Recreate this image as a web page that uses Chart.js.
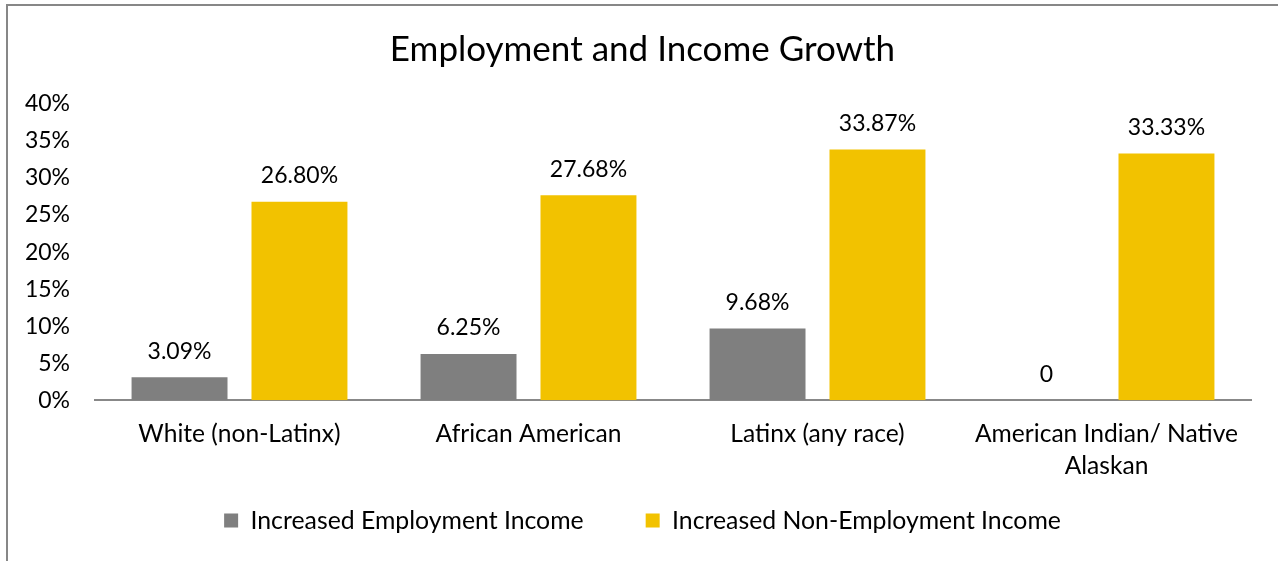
<!DOCTYPE html>
<html>
<head>
<meta charset="utf-8">
<title>Employment and Income Growth</title>
<script src="https://cdn.jsdelivr.net/npm/chart.js@4.4.1/dist/chart.umd.min.js"></script>
<style>
  html, body { margin: 0; padding: 0; background: #fff; }
  #wrap { position: relative; width: 1278px; height: 561px; }
</style>
</head>
<body>
<div id="wrap"><canvas id="growthChart" width="1278" height="561"></canvas></div>
<script>
// --- data ---
const categories = [
  'White (non-Latinx)',
  'African American',
  'Latinx (any race)',
  ['American Indian/ Native', 'Alaskan']
];
const employmentIncome = [3.09, 6.25, 9.68, 0];
const nonEmploymentIncome = [26.80, 27.68, 33.87, 33.33];
const seriesNames = ['Increased Employment Income', 'Increased Non-Employment Income'];
const seriesColors = ['#7f7f7f', '#f2c200'];
const yTicks = [0, 5, 10, 15, 20, 25, 30, 35, 40];

const FONT = 'Lato, "Open Sans", sans-serif';
const TEXT = '#000';

// thin grey frame round the chart (left and top edges)
const framePlugin = {
  id: 'frame',
  beforeDraw(chart) {
    const ctx = chart.ctx;
    ctx.save();
    ctx.strokeStyle = '#878787';
    ctx.lineWidth = 2;
    ctx.beginPath();
    ctx.moveTo(7, chart.height);
    ctx.lineTo(7, 5);
    ctx.lineTo(chart.width, 5);
    ctx.stroke();
    ctx.restore();
  },
  // the x axis box is kept short so the legend sits close; let its
  // two-line labels run past it instead of being clipped
  afterLayout(chart) {
    chart.scales.x.bottom = chart.height;
  }
};

// value labels above every bar
const valueLabels = {
  id: 'valueLabels',
  afterDatasetsDraw(chart) {
    const ctx = chart.ctx;
    ctx.save();
    ctx.font = '23px ' + FONT;
    ctx.fillStyle = TEXT;
    ctx.textAlign = 'center';
    ctx.textBaseline = 'middle';
    chart.data.datasets.forEach((ds, i) => {
      chart.getDatasetMeta(i).data.forEach((bar, j) => {
        const v = ds.data[j];
        const txt = v === 0 ? '0' : v.toFixed(2) + '%';
        ctx.fillText(txt, bar.x, bar.y - 26);
      });
    });
    ctx.restore();
  }
};

new Chart(document.getElementById('growthChart'), {
  type: 'bar',
  data: {
    labels: categories,
    datasets: [
      { label: seriesNames[0], data: employmentIncome, backgroundColor: seriesColors[0] },
      { label: seriesNames[1], data: nonEmploymentIncome, backgroundColor: seriesColors[1] }
    ]
  },
  options: {
    responsive: false,
    animation: false,
    layout: { padding: { left: 7, right: 0, top: 8, bottom: 18 } },
    datasets: { bar: { categoryPercentage: 0.83, barPercentage: 0.8 } },
    plugins: {
      title: {
        display: true,
        text: 'Employment and Income Growth',
        color: TEXT,
        font: { family: FONT, size: 35, weight: 'normal', lineHeight: 1.2 },
        padding: { top: 21, bottom: 33 }
      },
      legend: {
        position: 'bottom',
        labels: {
          color: TEXT,
          font: { family: FONT, size: 24.8 },
          boxWidth: 14,
          boxHeight: 14,
          padding: 62
        }
      },
      tooltip: { enabled: false }
    },
    scales: {
      x: {
        afterFit(scale) { scale.height = 46; },
        grid: { display: false, drawTicks: false },
        border: { display: true, color: '#888', width: 2 },
        ticks: {
          color: TEXT,
          font: { family: FONT, size: 24.6, lineHeight: 1.3 },
          maxRotation: 0,
          padding: 18
        }
      },
      y: {
        min: 0,
        max: 40,
        afterFit(scale) { scale.width = 88; },
        afterBuildTicks(scale) { scale.ticks = yTicks.map(v => ({ value: v })); },
        grid: { display: false, drawTicks: false },
        border: { display: false },
        ticks: {
          color: TEXT,
          font: { family: FONT, size: 23 },
          padding: 25,
          callback: v => v + '%'
        }
      },
      // empty right-hand margin for the plot
      yRight: {
        position: 'right',
        afterFit(scale) { scale.width = 27; },
        grid: { display: false },
        border: { display: false },
        ticks: { display: false }
      }
    }
  },
  plugins: [framePlugin, valueLabels]
});
</script>
</body>
</html>
